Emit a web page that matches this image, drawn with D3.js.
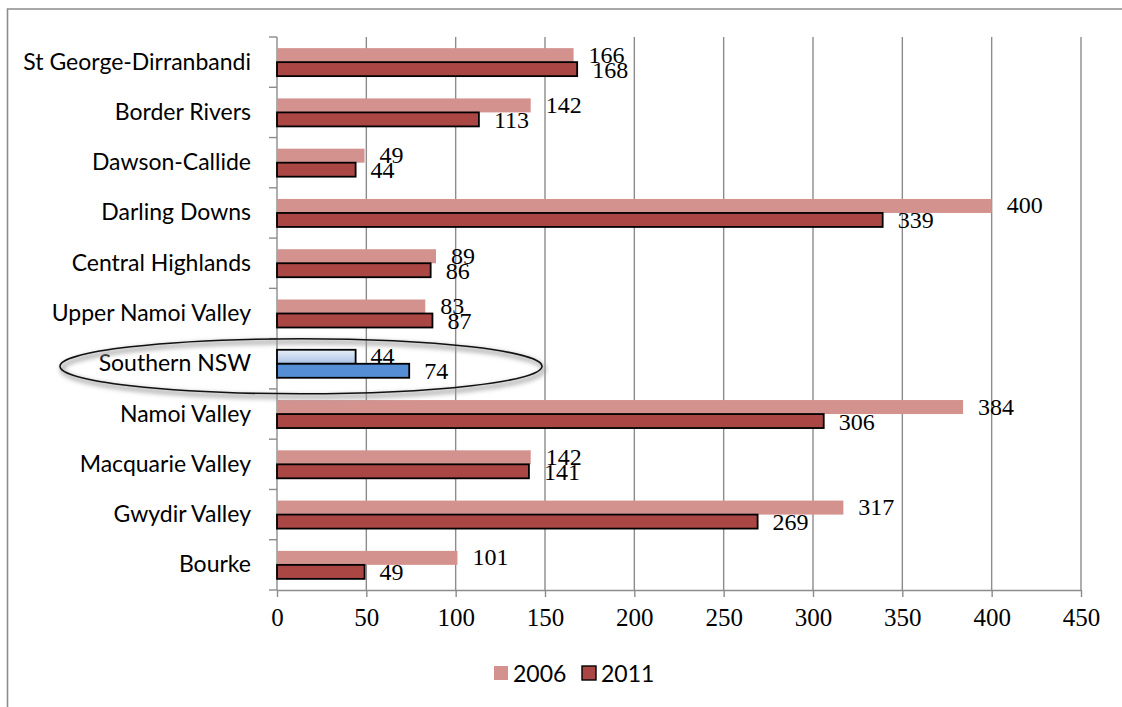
<!DOCTYPE html>
<html>
<head>
<meta charset="utf-8">
<script src="https://cdn.jsdelivr.net/npm/d3@7"></script>
<style>
  html, body { margin: 0; padding: 0; background: #fff; }
  svg { display: block; }
</style>
</head>
<body>
<svg id="chart" width="1122" height="707"></svg>
<script>
// Regions, top to bottom
const regions = [
  "St George-Dirranbandi", "Border Rivers", "Dawson-Callide", "Darling Downs",
  "Central Highlands", "Upper Namoi Valley", "Southern NSW", "Namoi Valley",
  "Macquarie Valley", "Gwydir Valley", "Bourke"
];
const values2006 = [166, 142, 49, 400, 89, 83, 44, 384, 142, 317, 101];
const values2011 = [168, 113, 44, 339, 86, 87, 74, 306, 141, 269, 49];
const seriesNames = ["2006", "2011"];
const xTicks = [0, 50, 100, 150, 200, 250, 300, 350, 400, 450];
const highlighted = "Southern NSW";

const svg = d3.select("#chart");
const W = 1122, H = 707;
const plot = { left: 277, right: 1081, top: 37, bottom: 590 };

const colors = {
  s2006: "#D4928F", s2011: "#AA4744",
  hl2011: "#558ED5", grid: "#8C8C8C"
};
const serif = "'Liberation Serif', 'Times New Roman', serif";
const sans = "Lato, sans-serif";

const x = d3.scaleLinear().domain([0, 450]).range([plot.left, plot.right]);
const y = d3.scaleBand().domain(regions).range([plot.top, plot.bottom]);
const barH = 14;

const defs = svg.append("defs");
const grad = defs.append("linearGradient").attr("id", "hl2006")
  .attr("x1", 0).attr("y1", 0).attr("x2", 0).attr("y2", 1);
grad.append("stop").attr("offset", "0%").attr("stop-color", "#E9F0FA");
grad.append("stop").attr("offset", "100%").attr("stop-color", "#A9C1E6");
const blur = defs.append("filter").attr("id", "soft")
  .attr("x", "-10%").attr("y", "-50%").attr("width", "120%").attr("height", "200%");
blur.append("feGaussianBlur").attr("stdDeviation", 2.5);

// Outer frame
svg.append("path")
  .attr("d", `M${W + 2},9 H7.5 V${H + 2}`)
  .attr("fill", "none").attr("stroke", "#8C8C8C").attr("stroke-width", 1.6);

// Vertical gridlines
svg.append("g").selectAll("line")
  .data(xTicks.slice(1))
  .join("line")
  .attr("x1", d => x(d)).attr("x2", d => x(d))
  .attr("y1", plot.top).attr("y2", plot.bottom)
  .attr("stroke", colors.grid).attr("stroke-width", 1.4);

// X axis
const xAxis = svg.append("g")
  .attr("transform", `translate(0,${plot.bottom})`)
  .call(d3.axisBottom(x).tickValues(xTicks).tickSize(7).tickPadding(11).tickSizeOuter(0));
xAxis.select(".domain").attr("stroke", colors.grid).attr("stroke-width", 1.4);
xAxis.selectAll(".tick line").attr("stroke", colors.grid).attr("stroke-width", 1.4);
xAxis.selectAll(".tick text")
  .attr("font-family", serif).attr("font-size", 25)
  .attr("fill", "#000");

// Y axis: ticks between categories
const yAxisG = svg.append("g");
yAxisG.append("line")
  .attr("x1", plot.left).attr("x2", plot.left)
  .attr("y1", plot.top).attr("y2", plot.bottom)
  .attr("stroke", colors.grid).attr("stroke-width", 1.4);
const boundaries = regions.map(r => y(r)).concat([plot.bottom]);
yAxisG.selectAll("line.tk").data(boundaries).join("line").attr("class", "tk")
  .attr("x1", plot.left - 8).attr("x2", plot.left)
  .attr("y1", d => d).attr("y2", d => d)
  .attr("stroke", colors.grid).attr("stroke-width", 1.4);
yAxisG.selectAll("text").data(regions).join("text")
  .attr("x", plot.left - 26)
  .attr("y", d => y(d) + y.bandwidth() / 2 + 7.5)
  .attr("text-anchor", "end")
  .attr("font-family", sans).attr("font-size", 23)
  .attr("fill", "#000")
  .text(d => d);

// Bars
const rows = regions.map((r, i) => ({ r, v06: values2006[i], v11: values2011[i] }));
const bars = svg.append("g");
bars.selectAll("rect.b06").data(rows).join("rect").attr("class", "b06")
  .attr("x", x(0))
  .attr("y", d => y(d.r) + y.bandwidth() / 2 - barH)
  .attr("width", d => x(d.v06) - x(0))
  .attr("height", barH)
  .attr("fill", d => d.r === highlighted ? "url(#hl2006)" : colors.s2006)
  .attr("stroke", d => d.r === highlighted ? "#000" : "none")
  .attr("stroke-width", 1.8);
bars.selectAll("rect.b11").data(rows).join("rect").attr("class", "b11")
  .attr("x", x(0))
  .attr("y", d => y(d.r) + y.bandwidth() / 2)
  .attr("width", d => x(d.v11) - x(0))
  .attr("height", barH)
  .attr("fill", d => d.r === highlighted ? colors.hl2011 : colors.s2011)
  .attr("stroke", "#000")
  .attr("stroke-width", 1.8);

// Value labels
const labels = svg.append("g")
  .attr("font-family", serif).attr("font-size", 24).attr("fill", "#000");
labels.selectAll("text.l06").data(rows).join("text").attr("class", "l06")
  .attr("x", d => x(d.v06) + 15)
  .attr("y", d => y(d.r) + y.bandwidth() / 2 - barH / 2 + 7.5)
  .text(d => d.v06);
labels.selectAll("text.l11").data(rows).join("text").attr("class", "l11")
  .attr("x", d => x(d.v11) + 15)
  .attr("y", d => y(d.r) + y.bandwidth() / 2 + barH / 2 + 8.5)
  .text(d => d.v11);

// Callout ellipse around the highlighted region
const cy = y(highlighted) + y.bandwidth() / 2 + 2.5;
svg.append("ellipse")
  .attr("cx", 301 + 2).attr("cy", cy + 3).attr("rx", 241).attr("ry", 27.5)
  .attr("fill", "none").attr("stroke", "#9A9A9A").attr("stroke-width", 3.5)
  .attr("filter", "url(#soft)");
svg.append("ellipse")
  .attr("cx", 301).attr("cy", cy).attr("rx", 241).attr("ry", 27.5)
  .attr("fill", "none").attr("stroke", "#111").attr("stroke-width", 1.6);

// Legend
const legend = svg.append("g").attr("transform", "translate(494,666)");
const items = [
  { name: seriesNames[0], fill: colors.s2006, stroke: "none", dx: 0 },
  { name: seriesNames[1], fill: colors.s2011, stroke: "#000", dx: 88 }
];
const li = legend.selectAll("g").data(items).join("g")
  .attr("transform", d => `translate(${d.dx},0)`);
li.append("rect").attr("width", 14).attr("height", 14)
  .attr("fill", d => d.fill).attr("stroke", d => d.stroke).attr("stroke-width", 1.4);
li.append("text").attr("x", 19).attr("y", 15.5)
  .attr("font-family", sans).attr("font-size", 23).attr("fill", "#000")
  .text(d => d.name);
</script>
</body>
</html>
